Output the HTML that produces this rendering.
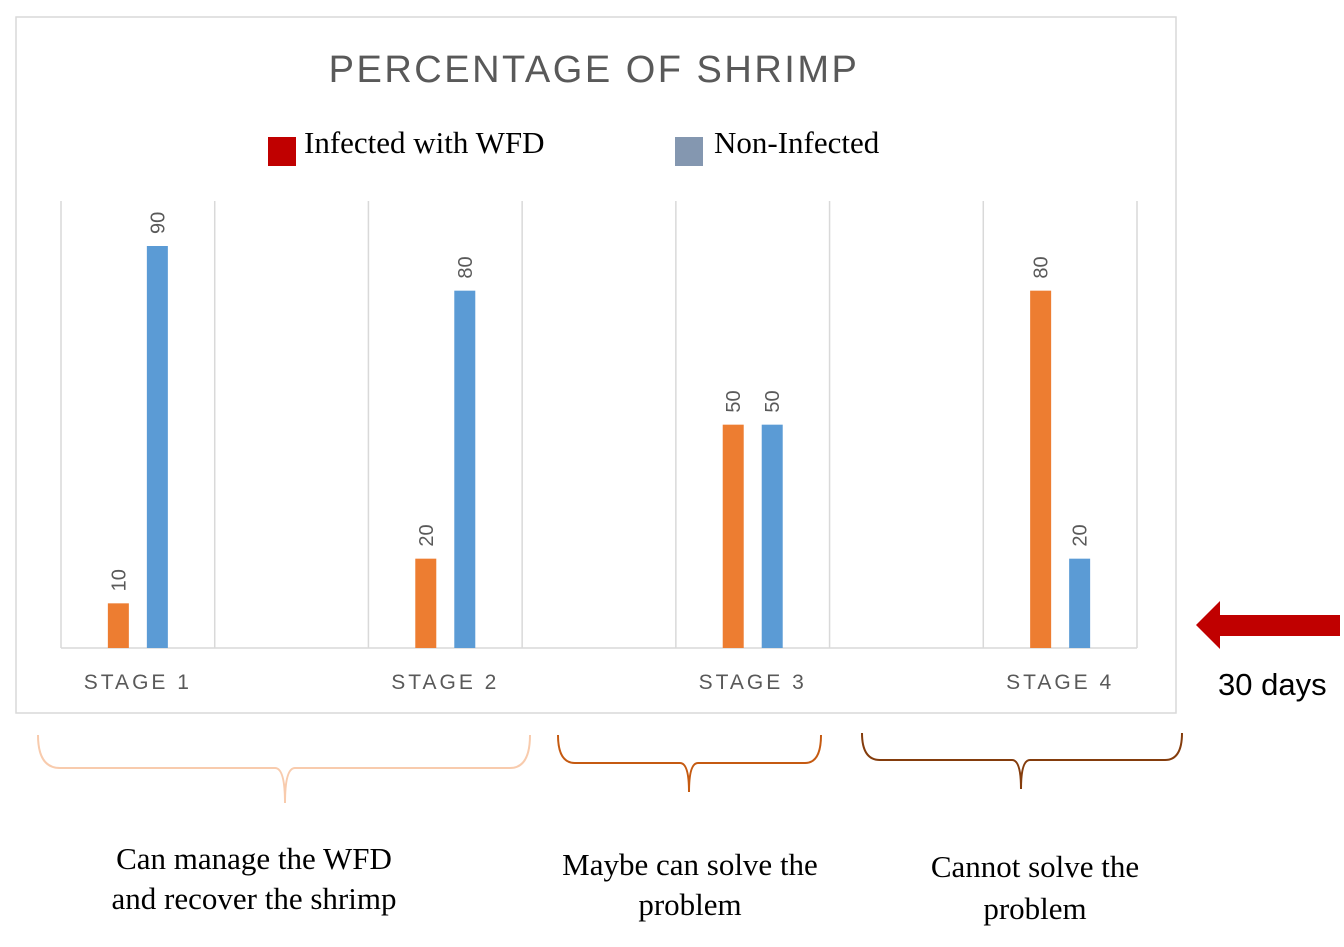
<!DOCTYPE html>
<html><head><meta charset="utf-8"><style>
body{margin:0;background:#fff;width:1344px;height:942px;overflow:hidden;font-family:"Liberation Sans",sans-serif}
</style></head><body>
<svg width="1344" height="942">
<rect x="16" y="17" width="1160" height="696" fill="#fff" stroke="#d9d9d9" stroke-width="1.5"/>
<text x="594" y="82" text-anchor="middle" font-size="38" fill="#595959" letter-spacing="2.5" font-family="Liberation Sans, sans-serif">PERCENTAGE OF SHRIMP</text>
<g>
<rect x="268" y="137" width="28" height="29" fill="#c00000"/>
<text x="304" y="153" font-size="31" fill="#000" font-family="Liberation Serif, serif">Infected with WFD</text>
<rect x="675" y="137" width="28" height="29" fill="#8497b0"/>
<text x="714" y="153" font-size="31" fill="#000" font-family="Liberation Serif, serif">Non-Infected</text>
</g>
<g id="plot"></g>
<g>
<polygon points="1196,625 1220,601 1220,615 1340,615 1340,636 1220,636 1220,649" fill="#c00000"/>
<text x="1218" y="695" font-size="31" fill="#000">30 days</text>
</g>
<g fill="none" stroke-width="2">
<path d="M38,735 Q38,768 60,768 L275,768 Q285,768 285,803 Q285,768 295,768 L510,768 Q530,768 530,735" stroke="#f8cbad"/>
<path d="M558,735 Q558,763 575,763 L680,763 Q689,763 689,792 Q689,763 698,763 L805,763 Q821,763 821,735" stroke="#c55a11"/>
<path d="M862,733 Q862,760 880,760 L1012,760 Q1021,760 1021,789 Q1021,760 1030,760 L1165,760 Q1182,760 1182,733" stroke="#843c0c"/>
</g>
<g font-family="Liberation Serif, serif" font-size="31" fill="#000" text-anchor="middle">
<text x="254" y="869">Can manage the WFD</text>
<text x="254" y="909">and recover the shrimp</text>
<text x="690" y="875">Maybe can solve the</text>
<text x="690" y="915">problem</text>
<text x="1035" y="877">Cannot solve the</text>
<text x="1035" y="919">problem</text>
</g>
</svg>
<script>
const categories=["STAGE 1","STAGE 2","STAGE 3","STAGE 4"];
const infected=[10,20,50,80];
const nonInfected=[90,80,50,20];
const NS="http://www.w3.org/2000/svg";
const plotG=document.getElementById("plot");
const x0=61,x1=1137,base=648,yTop=246,maxV=90;
const step=(x1-x0)/7;
function yScale(v){return base-(v/maxV)*(base-yTop);}
function cx(i){return x0+step*(2*i)+step/2;}
function mk(t,a){const e=document.createElementNS(NS,t);for(const k in a)e.setAttribute(k,a[k]);plotG.appendChild(e);return e;}
for(let k=0;k<=7;k++){const l=mk("line",{x1:x0+step*k,x2:x0+step*k,y1:201,y2:base,stroke:"#d9d9d9","stroke-width":1.5});

}
const ax=mk("line",{x1:x0,x2:x1,y1:base,y2:base,stroke:"#d9d9d9","stroke-width":1.5});


categories.forEach((c,i)=>{
 const c0=cx(i);
 [[infected[i],-19.5,"#ed7d31","bar-infected"],[nonInfected[i],19.5,"#5b9bd5","bar-non-infected"]].forEach(([v,off,col,nm])=>{
  const b=mk("rect",{x:c0+off-10.5,y:yScale(v),width:21,height:base-yScale(v),fill:col});
  
  
  const t=mk("text",{x:0,y:0,"font-size":20,fill:"#595959",transform:`translate(${c0+off+7},${yScale(v)-12}) rotate(-90)`});
  t.textContent=v;
  
  
 });
 const lb=mk("text",{x:c0,y:689,"text-anchor":"middle","font-size":21,fill:"#595959","letter-spacing":"3"});
 lb.textContent=c;
 
 
});
</script>
</body></html>
